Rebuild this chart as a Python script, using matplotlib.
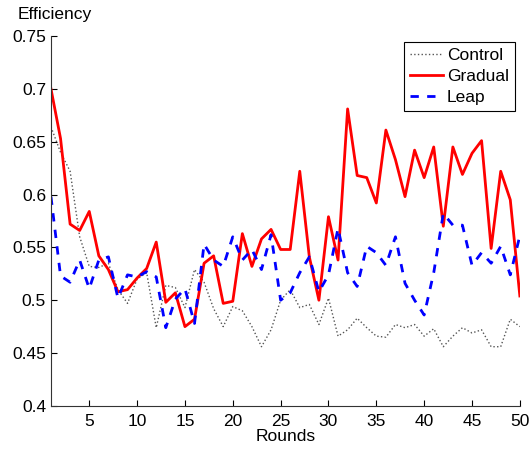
import numpy as np
import matplotlib
matplotlib.use("Agg")
import matplotlib.pyplot as plt

plt.rcParams['font.family'] = ['Liberation Sans', 'DejaVu Sans']

rounds = np.arange(1, 51)

control = [0.664, 0.640, 0.622, 0.560, 0.532, 0.531, 0.535, 0.510, 0.497, 0.520,
           0.526, 0.474, 0.514, 0.512, 0.493, 0.529, 0.517, 0.492, 0.475, 0.494,
           0.490, 0.475, 0.456, 0.472, 0.500, 0.510, 0.493, 0.496, 0.477, 0.502,
           0.466, 0.472, 0.483, 0.474, 0.466, 0.465, 0.477, 0.474, 0.477, 0.466,
           0.473, 0.456, 0.466, 0.474, 0.469, 0.472, 0.456, 0.456, 0.482, 0.475]

gradual = [0.700, 0.653, 0.572, 0.566, 0.584, 0.542, 0.529, 0.508, 0.510, 0.521,
           0.530, 0.555, 0.498, 0.507, 0.475, 0.482, 0.535, 0.542, 0.497, 0.499,
           0.563, 0.532, 0.558, 0.567, 0.548, 0.548, 0.622, 0.541, 0.500, 0.579,
           0.538, 0.681, 0.618, 0.616, 0.592, 0.661, 0.633, 0.598, 0.642, 0.616,
           0.645, 0.570, 0.645, 0.619, 0.639, 0.651, 0.549, 0.622, 0.595, 0.504]

leap = [0.598, 0.523, 0.517, 0.538, 0.511, 0.538, 0.541, 0.502, 0.524, 0.522,
        0.527, 0.522, 0.474, 0.501, 0.511, 0.478, 0.553, 0.538, 0.532, 0.560,
        0.538, 0.548, 0.529, 0.562, 0.500, 0.507, 0.526, 0.541, 0.508, 0.524,
        0.568, 0.526, 0.513, 0.551, 0.545, 0.533, 0.560, 0.516, 0.500, 0.486,
        0.526, 0.582, 0.571, 0.571, 0.533, 0.545, 0.535, 0.551, 0.524, 0.561]

fig = plt.figure(figsize=(5.31, 4.5), dpi=100)
ax = fig.add_axes([0.096, 0.098, 0.883, 0.822])

ax.plot(rounds, control, ':', color='#555555', lw=1.0, label='Control')
ax.plot(rounds, gradual, '-', color='red', lw=2.0, label='Gradual')
ax.plot(rounds, leap, '--', color='blue', lw=2.0, dashes=(3, 3), label='Leap')

ax.set_xlim(1, 50)
ax.set_ylim(0.4, 0.75)
ax.set_xticks(np.arange(5, 51, 5))
yt = np.arange(0.4, 0.751, 0.05)
ax.set_yticks(yt)
ax.set_yticklabels(['%g' % round(v, 2) for v in yt])
ax.tick_params(direction='in', length=4, labelsize=12.5, width=0.8)
ax.tick_params(axis='x', pad=6)
ax.spines['top'].set_visible(False)
ax.spines['right'].set_visible(False)
for s in ('left', 'bottom'):
    ax.spines[s].set_color('#333333')

ax.set_xlabel('Rounds', fontsize=12.5, labelpad=0)
fig.text(18 / 531, 1 - 15 / 450, 'Efficiency', fontsize=12.5, va='center', ha='left')

leg = ax.legend(loc='upper right', bbox_to_anchor=(0.99, 0.985), fontsize=12.5,
                fancybox=False, framealpha=1, edgecolor='black',
                handlelength=1.9, handletextpad=0.25, borderpad=0.35,
                labelspacing=0.35, borderaxespad=0)
leg.get_frame().set_linewidth(0.8)

fig.savefig('out.png', dpi=100)
